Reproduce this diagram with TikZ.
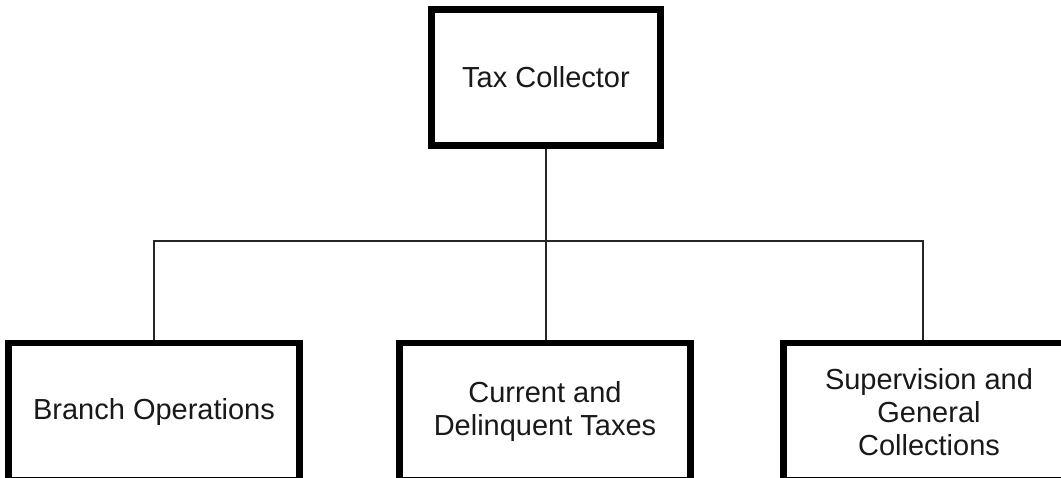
\documentclass[tikz,border=0pt]{standalone}
\usepackage{fontspec}
\setmainfont{Liberation Sans}
\begin{document}
\begin{tikzpicture}[x=1pt,y=1pt,
  unit/.style={draw=black, line width=6.5pt, fill=white, inner sep=0pt,
    align=center, text=black!90, font=\fontsize{29}{33}\selectfont},
  link/.style={draw=black!85, line width=1.4pt}]
\useasboundingbox (0,0) rectangle (1061,478);
\clip (0,0) rectangle (1061,478);

% head of the office
\node[unit, minimum width=229pt, minimum height=136pt] (head) at (546,400.5) {Tax Collector};

% divisions
\node[unit, minimum width=291pt, minimum height=137.5pt] (branch) at (154,66.25) {Branch Operations};
\node[unit, minimum width=291pt, minimum height=137.5pt] (current) at (545,66.25) {Current and\\Delinquent Taxes};
\node[unit, minimum width=291pt, minimum height=137.5pt] (superv) at (929,66.25) {Supervision and\\General\\Collections};

% bus line
\coordinate (busL) at (154,237);
\coordinate (busR) at (923,237);

\draw[link] (head.south) -- (head.south |- current.north);
\draw[link] (branch.north) -- (busL) -- (busR) -- (busR |- superv.north);
\end{tikzpicture}
\end{document}
